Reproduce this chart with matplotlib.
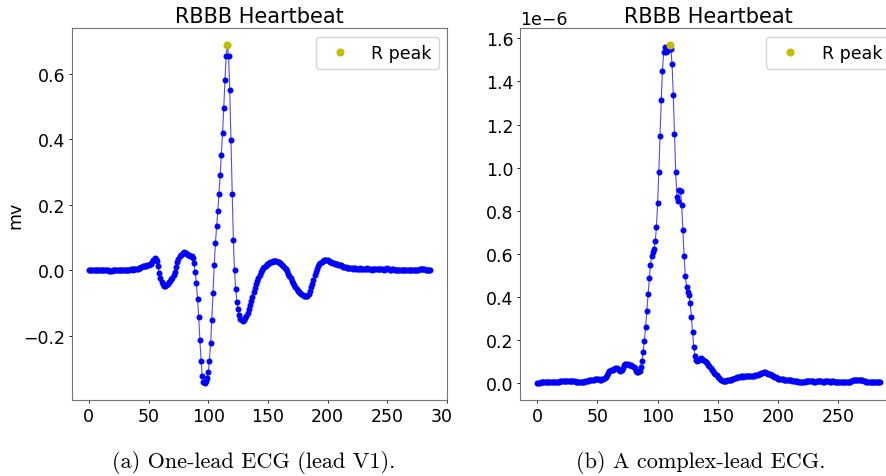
import numpy as np
import matplotlib
matplotlib.use("Agg")
import matplotlib.pyplot as plt
from matplotlib.transforms import Bbox, TransformedBbox

# lead V1 heartbeat (mv), one sample per index
v1 = [0.000, 0.001, 0.002, 0.002, 0.001, 0.002, 0.001, 0.000, 0.001, 0.001,
      0.000, 0.001, 0.000, 0.001, 0.001, 0.002, 0.001, -0.002, -0.003, -0.002,
      0.000, 0.001, 0.001, 0.001, 0.002, 0.001, 0.001, 0.002, 0.001, 0.001,
      0.002, 0.002, 0.001, 0.001, 0.002, 0.003, 0.003, 0.002, 0.003, 0.004,
      0.004, 0.005, 0.006, 0.008, 0.011, 0.013, 0.014, 0.013, 0.014, 0.016,
      0.016, 0.018, 0.020, 0.026, 0.033, 0.037, 0.036, 0.028, 0.012, -0.008,
      -0.024, -0.036, -0.043, -0.047, -0.048, -0.046, -0.041, -0.036, -0.031, -0.027,
      -0.022, -0.015, -0.005, 0.010, 0.025, 0.036, 0.043, 0.048, 0.051, 0.054,
      0.055, 0.053, 0.050, 0.047, 0.046, 0.045, 0.043, 0.037, 0.022, -0.005,
      -0.038, -0.086, -0.143, -0.213, -0.275, -0.321, -0.341, -0.344, -0.338, -0.328,
      -0.310, -0.275, -0.220, -0.150, -0.068, 0.015, 0.082, 0.134, 0.180, 0.234,
      0.291, 0.353, 0.420, 0.496, 0.581, 0.654, 0.687, 0.654, 0.550, 0.396,
      0.234, 0.094, 0.000, -0.058, -0.096, -0.119, -0.136, -0.147, -0.152, -0.153,
      -0.151, -0.146, -0.139, -0.130, -0.119, -0.106, -0.093, -0.080, -0.066, -0.054,
      -0.042, -0.032, -0.022, -0.013, -0.006, 0.001, 0.006, 0.010, 0.014, 0.018,
      0.021, 0.024, 0.026, 0.027, 0.028, 0.028, 0.028, 0.028, 0.027, 0.026,
      0.024, 0.021, 0.017, 0.013, 0.008, 0.003, -0.003, -0.010, -0.017, -0.024,
      -0.031, -0.038, -0.045, -0.051, -0.057, -0.062, -0.066, -0.070, -0.073, -0.076,
      -0.078, -0.079, -0.079, -0.077, -0.071, -0.063, -0.052, -0.040, -0.028, -0.015,
      -0.005, 0.004, 0.012, 0.018, 0.023, 0.027, 0.030, 0.032, 0.033, 0.033,
      0.031, 0.029, 0.027, 0.025, 0.023, 0.022, 0.021, 0.020, 0.019, 0.017,
      0.016, 0.015, 0.013, 0.011, 0.010, 0.009, 0.008, 0.007, 0.006, 0.006,
      0.006, 0.005, 0.006, 0.006, 0.005, 0.004, 0.005, 0.006, 0.005, 0.004,
      0.003, 0.004, 0.005, 0.006, 0.005, 0.004, 0.003, 0.002, 0.003, 0.004,
      0.005, 0.004, 0.003, 0.003, 0.004, 0.004, 0.003, 0.002, 0.003, 0.005,
      0.006, 0.004, 0.002, 0.002, 0.003, 0.003, 0.002, 0.001, 0.002, 0.002,
      0.001, 0.000, 0.000, 0.001, 0.001, 0.000, 0.000, 0.001, 0.002, 0.002,
      0.001, 0.000, 0.000, 0.001, 0.001, 0.002, 0.002, 0.003, 0.003, 0.003,
      0.003, 0.003, 0.002, 0.002, 0.002, 0.002, 0.001]

# complex-lead heartbeat, in units of 1e-6
cx = [0.000, 0.002, 0.003, 0.004, 0.005, 0.005, 0.006, 0.006, 0.007, 0.007,
      0.007, 0.008, 0.007, 0.007, 0.007, 0.008, 0.008, 0.008, 0.008, 0.009,
      0.009, 0.009, 0.010, 0.010, 0.010, 0.011, 0.011, 0.010, 0.010, 0.010,
      0.009, 0.009, 0.008, 0.007, 0.006, 0.005, 0.004, 0.004, 0.005, 0.007,
      0.009, 0.011, 0.012, 0.013, 0.014, 0.015, 0.016, 0.017, 0.019, 0.020,
      0.021, 0.018, 0.016, 0.017, 0.019, 0.021, 0.024, 0.028, 0.037, 0.048,
      0.056, 0.060, 0.063, 0.063, 0.068, 0.072, 0.071, 0.066, 0.060, 0.056,
      0.062, 0.072, 0.083, 0.089, 0.090, 0.087, 0.085, 0.084, 0.083, 0.082,
      0.077, 0.069, 0.058, 0.050, 0.050, 0.056, 0.074, 0.102, 0.147, 0.198,
      0.260, 0.334, 0.414, 0.488, 0.550, 0.588, 0.610, 0.625, 0.658, 0.723,
      0.836, 0.980, 1.146, 1.313, 1.449, 1.538, 1.560, 1.538, 1.541, 1.550,
      1.569, 1.552, 1.480, 1.337, 1.155, 0.980, 0.865, 0.846, 0.897, 0.893,
      0.826, 0.712, 0.588, 0.496, 0.448, 0.425, 0.411, 0.371, 0.309, 0.236,
      0.170, 0.128, 0.110, 0.105, 0.108, 0.113, 0.116, 0.112, 0.108, 0.104,
      0.098, 0.092, 0.085, 0.078, 0.070, 0.063, 0.056, 0.049, 0.043, 0.037,
      0.031, 0.026, 0.021, 0.016, 0.012, 0.009, 0.009, 0.011, 0.013, 0.014,
      0.015, 0.017, 0.019, 0.021, 0.023, 0.025, 0.028, 0.030, 0.031, 0.032,
      0.032, 0.031, 0.032, 0.034, 0.035, 0.035, 0.034, 0.034, 0.035, 0.035,
      0.035, 0.036, 0.038, 0.040, 0.042, 0.044, 0.046, 0.048, 0.050, 0.050,
      0.049, 0.047, 0.045, 0.043, 0.040, 0.037, 0.034, 0.031, 0.028, 0.025,
      0.022, 0.020, 0.019, 0.019, 0.018, 0.017, 0.016, 0.015, 0.015, 0.014,
      0.013, 0.013, 0.012, 0.012, 0.011, 0.010, 0.009, 0.008, 0.008, 0.008,
      0.008, 0.008, 0.008, 0.009, 0.009, 0.010, 0.010, 0.010, 0.009, 0.009,
      0.008, 0.008, 0.009, 0.009, 0.010, 0.009, 0.009, 0.008, 0.008, 0.009,
      0.010, 0.010, 0.009, 0.008, 0.008, 0.009, 0.009, 0.008, 0.008, 0.007,
      0.007, 0.007, 0.006, 0.006, 0.005, 0.005, 0.005, 0.005, 0.005, 0.006,
      0.008, 0.011, 0.013, 0.014, 0.015, 0.015, 0.015, 0.014, 0.015, 0.015,
      0.014, 0.012, 0.010, 0.008, 0.006, 0.005, 0.005, 0.005, 0.004, 0.004,
      0.005, 0.006, 0.006, 0.005, 0.005, 0.006]

r_v1 = 116
r_cx = 110
titles = ["RBBB Heartbeat", "RBBB Heartbeat"]
captions = ["(a) One-lead ECG (lead V1).", "(b) A complex-lead ECG."]

v1 = np.array(v1)
cx = np.array(cx) * 1e-6

fig = plt.figure(figsize=(8.86, 4.77), dpi=100)
ax1 = fig.add_axes([0.081, 0.159, 0.424, 0.78])
ax2 = fig.add_axes([0.587, 0.159, 0.426, 0.78])

for ax, y, r, title in [(ax1, v1, r_v1, titles[0]), (ax2, cx, r_cx, titles[1])]:
    x = np.arange(len(y))
    ax.plot(x, y, color="b", lw=0.8, alpha=0.7)
    ax.plot(x, y, "o", color="b", ms=3.3)
    ax.plot([r], [y[r]], "o", color="y", ms=4.8, label="R peak")
    ax.set_title(title, fontsize=15, pad=4.2)
    ax.tick_params(labelsize=12.5, length=2.4, width=0.6, pad=2.4)
    ax.yaxis.get_offset_text().set_fontsize(12.5)
    for sp in ax.spines.values():
        sp.set_color("0.45")
        sp.set_linewidth(0.8)
    ax.legend(loc="upper right", fontsize=12.5)

ax1.set_ylabel("mv", fontsize=12.5)
ax1.yaxis.set_label_coords(-0.125, 0.5)

# the left panel was cropped just past its last tick label
ax1.set_xticks([0, 50, 100, 150, 200, 250, 300])
crop = TransformedBbox(Bbox([[0, 0], [452 / 886, 1]]), fig.transFigure)
for lab in ax1.get_xticklabels():
    lab.set_clip_box(crop)
    lab.set_clip_on(True)

fig.text(0.286, 0.031, captions[0], ha="center", va="center",
         family="cmr10", fontsize=16)
fig.text(0.791, 0.031, captions[1], ha="center", va="center",
         family="cmr10", fontsize=16)

fig.savefig("out.png", dpi=100)
